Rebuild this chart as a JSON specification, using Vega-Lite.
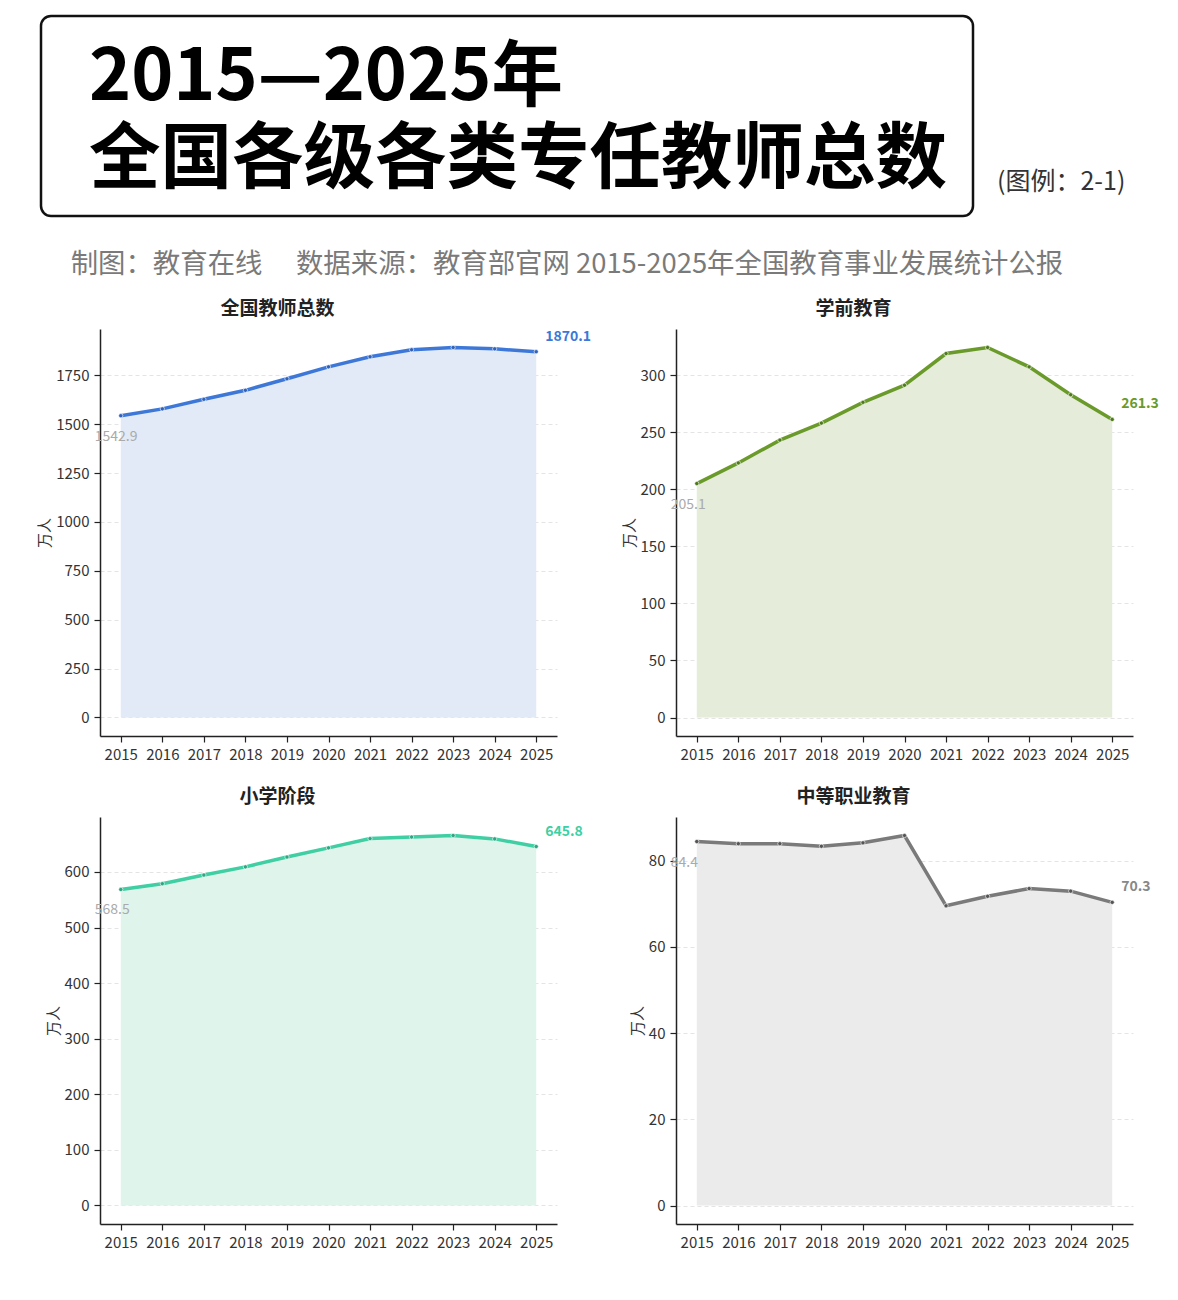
{
  "$schema": "https://vega.github.io/schema/vega-lite/v6.json",
  "background": "white",
  "padding": {"left": 37, "top": 14, "right": 0, "bottom": 0},
  "config": {
    "view": {"stroke": null},
    "font": "Noto Sans CJK SC",
    "title": {"font": "Noto Sans CJK SC", "fontSize": 19, "fontWeight": "bold", "color": "#222", "dx": -51, "offset": 10},
    "axis": {"domainColor": "#222", "domainWidth": 1.5, "tickColor": "#222", "tickSize": 6, "tickWidth": 1.2, "labelFont": "Noto Sans CJK SC", "labelFontSize": 15, "labelColor": "#333", "labelPadding": 5, "titleFont": "Noto Sans CJK SC", "titleFontSize": 15, "titleFontWeight": "normal", "titleColor": "#333"},
    "axisY": {"gridColor": "#e4e4e4", "gridDash": [4, 3], "gridWidth": 1, "titlePadding": 3, "format": "d"},
    "axisX": {"grid": false, "labelOverlap": false, "labelFlush": false},
    "text": {"font": "Noto Sans CJK SC"}
  },
  "datasets": {
    "teachers": [
      {"cat": "全国教师总数", "year": 2015, "value": 1542.9},
      {"cat": "全国教师总数", "year": 2016, "value": 1578.0},
      {"cat": "全国教师总数", "year": 2017, "value": 1626.9},
      {"cat": "全国教师总数", "year": 2018, "value": 1672.9},
      {"cat": "全国教师总数", "year": 2019, "value": 1732.0},
      {"cat": "全国教师总数", "year": 2020, "value": 1793.0},
      {"cat": "全国教师总数", "year": 2021, "value": 1844.4},
      {"cat": "全国教师总数", "year": 2022, "value": 1880.4},
      {"cat": "全国教师总数", "year": 2023, "value": 1891.8},
      {"cat": "全国教师总数", "year": 2024, "value": 1885.0},
      {"cat": "全国教师总数", "year": 2025, "value": 1870.1},
      {"cat": "学前教育", "year": 2015, "value": 205.1},
      {"cat": "学前教育", "year": 2016, "value": 223.2},
      {"cat": "学前教育", "year": 2017, "value": 243.2},
      {"cat": "学前教育", "year": 2018, "value": 258.1},
      {"cat": "学前教育", "year": 2019, "value": 276.3},
      {"cat": "学前教育", "year": 2020, "value": 291.3},
      {"cat": "学前教育", "year": 2021, "value": 319.1},
      {"cat": "学前教育", "year": 2022, "value": 324.4},
      {"cat": "学前教育", "year": 2023, "value": 307.4},
      {"cat": "学前教育", "year": 2024, "value": 283.0},
      {"cat": "学前教育", "year": 2025, "value": 261.3},
      {"cat": "小学阶段", "year": 2015, "value": 568.5},
      {"cat": "小学阶段", "year": 2016, "value": 578.9},
      {"cat": "小学阶段", "year": 2017, "value": 594.5},
      {"cat": "小学阶段", "year": 2018, "value": 609.2},
      {"cat": "小学阶段", "year": 2019, "value": 626.9},
      {"cat": "小学阶段", "year": 2020, "value": 643.4},
      {"cat": "小学阶段", "year": 2021, "value": 660.1},
      {"cat": "小学阶段", "year": 2022, "value": 662.9},
      {"cat": "小学阶段", "year": 2023, "value": 665.6},
      {"cat": "小学阶段", "year": 2024, "value": 659.5},
      {"cat": "小学阶段", "year": 2025, "value": 645.8},
      {"cat": "中等职业教育", "year": 2015, "value": 84.4},
      {"cat": "中等职业教育", "year": 2016, "value": 83.9},
      {"cat": "中等职业教育", "year": 2017, "value": 83.9},
      {"cat": "中等职业教育", "year": 2018, "value": 83.3},
      {"cat": "中等职业教育", "year": 2019, "value": 84.1},
      {"cat": "中等职业教育", "year": 2020, "value": 85.8},
      {"cat": "中等职业教育", "year": 2021, "value": 69.5},
      {"cat": "中等职业教育", "year": 2022, "value": 71.7},
      {"cat": "中等职业教育", "year": 2023, "value": 73.5},
      {"cat": "中等职业教育", "year": 2024, "value": 72.9},
      {"cat": "中等职业教育", "year": 2025, "value": 70.3}
    ]
  },
  "spacing": 32,
  "vconcat": [
    {
      "spacing": 22,
      "hconcat": [
        {
          "width": 932, "height": 200,
          "view": {"stroke": "#111", "strokeWidth": 2.5, "cornerRadius": 10, "fill": "white"},
          "title": {"text": ["2015—2025年", "全国各级各类专任教师总数"], "anchor": "start", "dx": 48, "offset": -181, "fontSize": 71.5, "lineHeight": 82, "fontWeight": "bold", "color": "#000"},
          "data": {"values": [{}]},
          "mark": {"type": "text"},
          "encoding": {"text": {"value": ""}}
        },
        {
          "width": 130, "height": 200,
          "title": {"text": "(图例：2-1)", "orient": "bottom", "anchor": "start", "dx": 0, "offset": -46, "fontSize": 25, "fontWeight": "normal", "color": "#333"},
          "data": {"values": [{}]},
          "mark": {"type": "text"},
          "encoding": {"text": {"value": ""}}
        }
      ]
    },
    {
      "spacing": -24,
      "hconcat": [
        {
          "width": 0, "height": 10,
          "data": {"values": [{}]},
          "mark": {"type": "text"},
          "encoding": {"text": {"value": ""}}
        },
        {
          "columns": 2,
          "spacing": {"row": 26, "column": 30},
          "title": {"text": "制图：教育在线　 数据来源：教育部官网 2015-2025年全国教育事业发展统计公报", "anchor": "start", "dx": 33, "offset": 22, "fontSize": 27.4, "fontWeight": "normal", "color": "#7a7a7a"},
          "concat": [
            {
              "width": 457, "height": 407,
              "data": {"name": "teachers"},
              "title": {"text": "全国教师总数"},
              "transform": [{"filter": "datum.cat === '全国教师总数'"}],
              "encoding": {
                "x": {"field": "year", "type": "quantitative", "scale": {"domain": [2014.5, 2025.5], "nice": false, "zero": false}, "axis": {"values": [2015, 2016, 2017, 2018, 2019, 2020, 2021, 2022, 2023, 2024, 2025], "format": "d", "title": null}},
                "y": {"field": "value", "type": "quantitative", "scale": {"domain": [-94.6, 1986.4], "nice": false, "zero": false}, "axis": {"values": [0, 250, 500, 750, 1000, 1250, 1500, 1750], "title": "万人", "grid": true}}
              },
              "layer": [
                {"mark": {"type": "area", "color": "#e1eaf6", "opacity": 1}, "encoding": {"y2": {"datum": 0}}},
                {"mark": {"type": "line", "color": "#3d78d8", "strokeWidth": 3.5}},
                {"mark": {"type": "point", "filled": true, "size": 18, "color": "#2f62b8", "stroke": "white", "strokeWidth": 0.6, "opacity": 1}},
                {"transform": [{"filter": "datum.year === 2015"}], "mark": {"type": "text", "align": "left", "baseline": "middle", "dx": -26, "dy": 21, "fontSize": 14, "color": "#aaaaaa"}, "encoding": {"text": {"field": "value", "type": "quantitative", "format": ".1f"}}},
                {"transform": [{"filter": "datum.year === 2025"}], "mark": {"type": "text", "align": "left", "baseline": "middle", "dx": 9, "dy": -15, "fontSize": 14, "fontWeight": "bold", "color": "#3d78d8"}, "encoding": {"text": {"field": "value", "type": "quantitative", "format": ".1f"}}}
              ]
            },
            {
              "width": 457, "height": 407,
              "data": {"name": "teachers"},
              "title": {"text": "学前教育"},
              "transform": [{"filter": "datum.cat === '学前教育'"}],
              "encoding": {
                "x": {"field": "year", "type": "quantitative", "scale": {"domain": [2014.5, 2025.5], "nice": false, "zero": false}, "axis": {"values": [2015, 2016, 2017, 2018, 2019, 2020, 2021, 2022, 2023, 2024, 2025], "format": "d", "title": null}},
                "y": {"field": "value", "type": "quantitative", "scale": {"domain": [-16.2, 340.6], "nice": false, "zero": false}, "axis": {"values": [0, 50, 100, 150, 200, 250, 300], "title": "万人", "grid": true}}
              },
              "layer": [
                {"mark": {"type": "area", "color": "#e5ecda", "opacity": 1}, "encoding": {"y2": {"datum": 0}}},
                {"mark": {"type": "line", "color": "#6a9a2a", "strokeWidth": 3.5}},
                {"mark": {"type": "point", "filled": true, "size": 18, "color": "#4f7a1c", "stroke": "white", "strokeWidth": 0.6, "opacity": 1}},
                {"transform": [{"filter": "datum.year === 2015"}], "mark": {"type": "text", "align": "left", "baseline": "middle", "dx": -26, "dy": 21, "fontSize": 14, "color": "#aaaaaa"}, "encoding": {"text": {"field": "value", "type": "quantitative", "format": ".1f"}}},
                {"transform": [{"filter": "datum.year === 2025"}], "mark": {"type": "text", "align": "left", "baseline": "middle", "dx": 9, "dy": -15, "fontSize": 14, "fontWeight": "bold", "color": "#6a9a2a"}, "encoding": {"text": {"field": "value", "type": "quantitative", "format": ".1f"}}}
              ]
            },
            {
              "width": 457, "height": 407,
              "data": {"name": "teachers"},
              "title": {"text": "小学阶段"},
              "transform": [{"filter": "datum.cat === '小学阶段'"}],
              "encoding": {
                "x": {"field": "year", "type": "quantitative", "scale": {"domain": [2014.5, 2025.5], "nice": false, "zero": false}, "axis": {"values": [2015, 2016, 2017, 2018, 2019, 2020, 2021, 2022, 2023, 2024, 2025], "format": "d", "title": null}},
                "y": {"field": "value", "type": "quantitative", "scale": {"domain": [-33.3, 698.9], "nice": false, "zero": false}, "axis": {"values": [0, 100, 200, 300, 400, 500, 600], "title": "万人", "grid": true}}
              },
              "layer": [
                {"mark": {"type": "area", "color": "#dff5ec", "opacity": 1}, "encoding": {"y2": {"datum": 0}}},
                {"mark": {"type": "line", "color": "#3fcfa3", "strokeWidth": 3.5}},
                {"mark": {"type": "point", "filled": true, "size": 18, "color": "#2fa582", "stroke": "white", "strokeWidth": 0.6, "opacity": 1}},
                {"transform": [{"filter": "datum.year === 2015"}], "mark": {"type": "text", "align": "left", "baseline": "middle", "dx": -26, "dy": 21, "fontSize": 14, "color": "#aaaaaa"}, "encoding": {"text": {"field": "value", "type": "quantitative", "format": ".1f"}}},
                {"transform": [{"filter": "datum.year === 2025"}], "mark": {"type": "text", "align": "left", "baseline": "middle", "dx": 9, "dy": -15, "fontSize": 14, "fontWeight": "bold", "color": "#3fcfa3"}, "encoding": {"text": {"field": "value", "type": "quantitative", "format": ".1f"}}}
              ]
            },
            {
              "width": 457, "height": 407,
              "data": {"name": "teachers"},
              "title": {"text": "中等职业教育"},
              "transform": [{"filter": "datum.cat === '中等职业教育'"}],
              "encoding": {
                "x": {"field": "year", "type": "quantitative", "scale": {"domain": [2014.5, 2025.5], "nice": false, "zero": false}, "axis": {"values": [2015, 2016, 2017, 2018, 2019, 2020, 2021, 2022, 2023, 2024, 2025], "format": "d", "title": null}},
                "y": {"field": "value", "type": "quantitative", "scale": {"domain": [-4.29, 90.09], "nice": false, "zero": false}, "axis": {"values": [0, 20, 40, 60, 80], "title": "万人", "grid": true}}
              },
              "layer": [
                {"mark": {"type": "area", "color": "#ebebeb", "opacity": 1}, "encoding": {"y2": {"datum": 0}}},
                {"mark": {"type": "line", "color": "#7a7a7a", "strokeWidth": 3.5}},
                {"mark": {"type": "point", "filled": true, "size": 18, "color": "#555555", "stroke": "white", "strokeWidth": 0.6, "opacity": 1}},
                {"transform": [{"filter": "datum.year === 2015"}], "mark": {"type": "text", "align": "left", "baseline": "middle", "dx": -26, "dy": 21, "fontSize": 14, "color": "#aaaaaa"}, "encoding": {"text": {"field": "value", "type": "quantitative", "format": ".1f"}}},
                {"transform": [{"filter": "datum.year === 2025"}], "mark": {"type": "text", "align": "left", "baseline": "middle", "dx": 9, "dy": -15, "fontSize": 14, "fontWeight": "bold", "color": "#888888"}, "encoding": {"text": {"field": "value", "type": "quantitative", "format": ".1f"}}}
              ]
            }
          ]
        }
      ]
    }
  ]
}
